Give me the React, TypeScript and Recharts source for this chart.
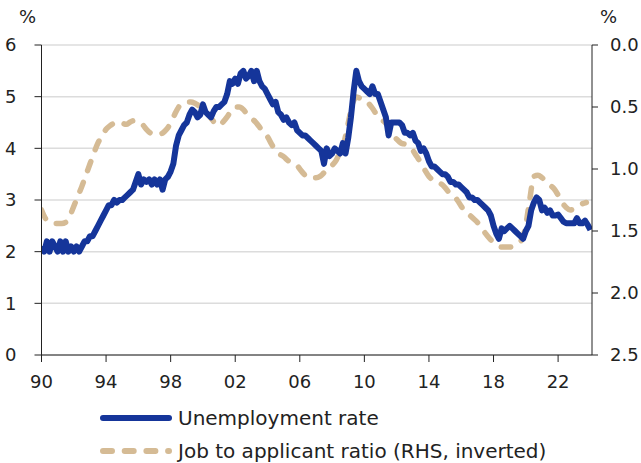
import React from "react";
import { LineChart, Line, XAxis, YAxis, CartesianGrid } from "recharts";

const START_YEAR = 1990;
const xTicks = [1990, 1994, 1998, 2002, 2006, 2010, 2014, 2018, 2022];
const leftTicks = [0, 1, 2, 3, 4, 5, 6];
const rightTicks = [0, 0.5, 1, 1.5, 2, 2.5];

// Unemployment rate (%), every two months from Jan 1990
const unemployment = [
  2.1, 2.0, 2.2, 2.0, 2.2, 2.1,
  2.0, 2.2, 2.0, 2.2, 2.0, 2.1,
  2.0, 2.1, 2.0, 2.1, 2.2, 2.2,
  2.3, 2.3, 2.4, 2.5, 2.6, 2.7,
  2.8, 2.9, 2.9, 3.0, 2.95, 3.0,
  3.0, 3.05, 3.1, 3.15, 3.2, 3.35,
  3.5, 3.3, 3.4, 3.35, 3.4, 3.3,
  3.4, 3.3, 3.4, 3.2, 3.4, 3.45,
  3.55, 3.7, 4.05, 4.25, 4.35, 4.45,
  4.5, 4.65, 4.75, 4.7, 4.6, 4.65,
  4.85, 4.7, 4.65, 4.6, 4.72, 4.8,
  4.8, 4.85, 4.9, 5.05, 5.3, 5.25,
  5.35, 5.25, 5.45, 5.5, 5.35, 5.4,
  5.5, 5.3, 5.5, 5.3, 5.2, 5.15,
  5.05, 4.95, 4.85, 4.9, 4.7, 4.65,
  4.55, 4.6, 4.5, 4.45, 4.5, 4.35,
  4.3, 4.25, 4.25, 4.2, 4.15, 4.1,
  4.05, 4.0, 3.95, 3.7, 4.0, 3.85,
  3.9, 4.0, 3.95, 3.9, 4.1, 3.9,
  4.2, 4.6, 5.1, 5.5, 5.3, 5.2,
  5.15, 5.1, 5.05, 5.2, 5.05, 5.05,
  4.9, 4.75, 4.6, 4.25, 4.5, 4.5,
  4.5, 4.5, 4.45, 4.3, 4.3, 4.25,
  4.3, 4.15, 4.1, 3.95, 4.0, 3.9,
  3.75, 3.65, 3.65, 3.6, 3.55, 3.5,
  3.5, 3.45, 3.35, 3.35, 3.3, 3.3,
  3.25, 3.2, 3.15, 3.05, 3.05, 3.0,
  3.0, 2.95, 2.9, 2.85, 2.8, 2.7,
  2.5, 2.35, 2.25, 2.45, 2.4, 2.45,
  2.5, 2.45, 2.4, 2.35, 2.3, 2.25,
  2.4, 2.5, 2.8, 2.95, 3.05, 3.0,
  2.8, 2.85, 2.75, 2.8, 2.7, 2.7,
  2.72, 2.65, 2.58, 2.55, 2.55, 2.55,
  2.55, 2.65, 2.55, 2.55, 2.6, 2.52,
  2.42,
];

// Job to applicant ratio, quarterly from 1990 Q1 (RHS, inverted)
const jobRatio = [
  1.33, 1.4, 1.43, 1.44,
  1.44, 1.44, 1.43, 1.38,
  1.3, 1.22, 1.14, 1.05,
  0.96, 0.87, 0.79, 0.73,
  0.68, 0.65, 0.63, 0.62,
  0.63, 0.64, 0.62, 0.61,
  0.62, 0.64, 0.68, 0.71,
  0.72, 0.72, 0.71, 0.68,
  0.63, 0.56, 0.5, 0.47,
  0.46, 0.46, 0.47, 0.49,
  0.51, 0.55, 0.59, 0.63,
  0.65, 0.62, 0.58, 0.53,
  0.5, 0.5, 0.52, 0.56,
  0.59, 0.62, 0.66, 0.71,
  0.74, 0.8, 0.85, 0.88,
  0.9, 0.93, 0.95, 0.96,
  1.0, 1.04, 1.07, 1.07,
  1.07, 1.06, 1.03, 1.0,
  0.97, 0.93, 0.86, 0.78,
  0.63, 0.48, 0.42, 0.43,
  0.44, 0.47, 0.51, 0.56,
  0.6, 0.62, 0.66, 0.72,
  0.76, 0.79, 0.8, 0.82,
  0.85, 0.9, 0.95, 1.01,
  1.06, 1.09, 1.11, 1.12,
  1.15, 1.19, 1.21, 1.25,
  1.3, 1.35, 1.37, 1.4,
  1.43, 1.47, 1.52, 1.56,
  1.59, 1.61, 1.63, 1.63,
  1.63, 1.62, 1.6, 1.57,
  1.45, 1.24, 1.06, 1.05,
  1.07, 1.1, 1.13, 1.16,
  1.21, 1.27, 1.31, 1.33,
  1.32, 1.3, 1.28, 1.27,
];

const seriesNames = ["Unemployment rate", "Job to applicant ratio (RHS, inverted)"];

const BLUE = "#15359a";
const TAN = "#d5bb95";
const FONT = "'DejaVu Sans', sans-serif";

const uData = unemployment.map((u, i) => ({ t: START_YEAR + i / 6, u }));
const rData = jobRatio.map((r, i) => ({ t: START_YEAR + i / 4, r }));

const tickStyle = { fontSize: 18, fill: "#222", fontFamily: FONT };

export default function App() {
  return (
    <div style={{ position: "absolute", left: 0, top: 0, width: 641, height: 463, background: "#fff", fontFamily: FONT }}>
      <LineChart width={641} height={463} margin={{ top: 45, right: 0, bottom: 73, left: 0 }}>
        <CartesianGrid yAxisId="left" vertical={false} stroke="#dcdcdc" strokeWidth={1.5} />
        <XAxis
          dataKey="t"
          type="number"
          domain={[1990, 2024.1]}
          allowDataOverflow
          ticks={xTicks}
          tickFormatter={(v: number) => String(Math.round(v) % 100).padStart(2, "0")}
          height={35}
          tickSize={7}
          tickMargin={13}
          stroke="#222"
          tick={tickStyle}
        />
        <YAxis
          yAxisId="left"
          domain={[0, 6]}
          ticks={leftTicks}
          width={41.5}
          tickSize={7}
          tickMargin={18}
          stroke="#222"
          tick={tickStyle}
        />
        <YAxis
          yAxisId="right"
          orientation="right"
          reversed
          domain={[0, 2.5]}
          ticks={rightTicks}
          tickFormatter={(v: number) => v.toFixed(1)}
          width={49}
          tickSize={6}
          tickMargin={12}
          stroke="#222"
          tick={{ ...tickStyle, textAnchor: "start" }}
        />
        <Line
          yAxisId="right"
          data={rData}
          dataKey="r"
          type="monotone"
          stroke={TAN}
          strokeWidth={5.5}
          strokeDasharray="9.5 12.5"
          strokeLinecap="round"
          dot={false}
          isAnimationActive={false}
        />
        <Line
          yAxisId="left"
          data={uData}
          dataKey="u"
          type="linear"
          stroke={BLUE}
          strokeWidth={6}
          strokeLinejoin="round"
          dot={false}
          isAnimationActive={false}
        />
      </LineChart>
      <div style={{ position: "absolute", left: 19, top: 6, fontSize: 18, color: "#222" }}>%</div>
      <div style={{ position: "absolute", left: 600, top: 6, fontSize: 18, color: "#222" }}>%</div>
      <div style={{ position: "absolute", left: 97, top: 406.5, display: "flex", alignItems: "center", fontSize: 20, lineHeight: "23px", color: "#222" }}>
        <svg width={78} height={10} style={{ marginRight: 3 }}>
          <line x1={6} y1={5} x2={72} y2={5} stroke={BLUE} strokeWidth={6} strokeLinecap="round" />
        </svg>
        <span>{seriesNames[0]}</span>
      </div>
      <div style={{ position: "absolute", left: 97, top: 439.5, display: "flex", alignItems: "center", fontSize: 20, lineHeight: "23px", color: "#222" }}>
        <svg width={78} height={10} style={{ marginRight: 3 }}>
          <line x1={6} y1={5} x2={72} y2={5} stroke={TAN} strokeWidth={6} strokeLinecap="round" strokeDasharray="9 12.7" />
        </svg>
        <span>{seriesNames[1]}</span>
      </div>
    </div>
  );
}
